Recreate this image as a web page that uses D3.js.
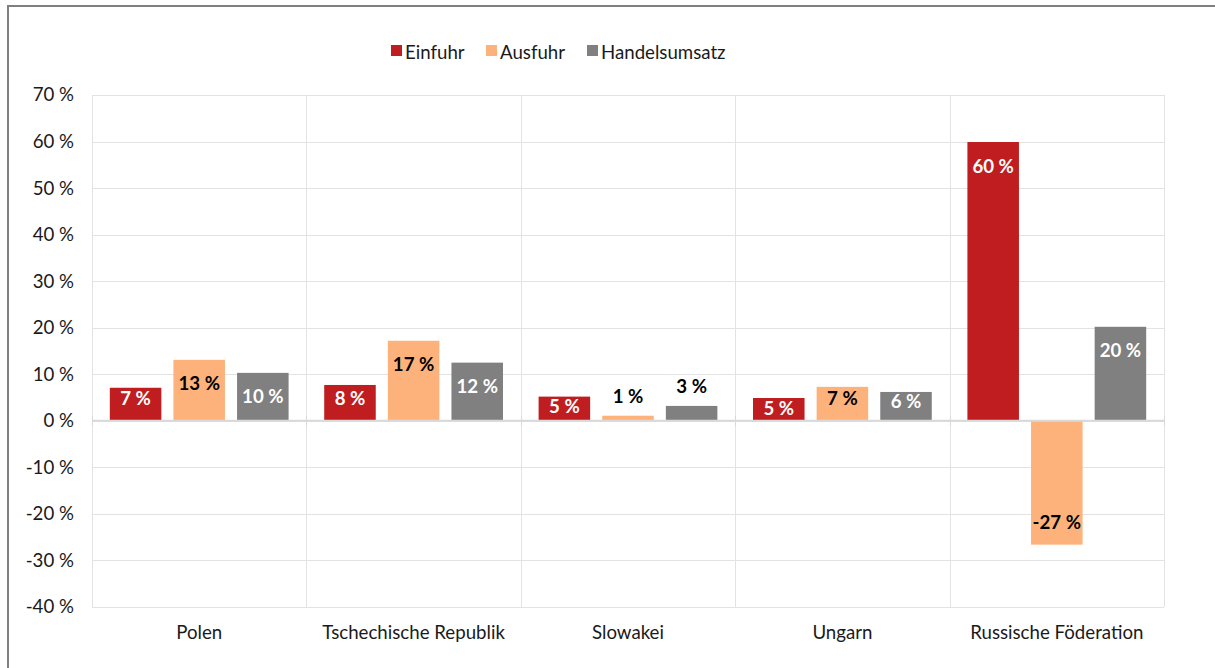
<!DOCTYPE html>
<html><head><meta charset="utf-8">
<script src="https://cdn.jsdelivr.net/npm/d3@7"></script>
<style>
html,body{margin:0;padding:0;background:#fff;}
svg{display:block;font-family:Lato,"Open Sans",sans-serif;}
</style></head><body>
<svg id="chart" width="1215" height="668"></svg>
<script>
const categories = ["Polen","Tschechische Republik","Slowakei","Ungarn","Russische Föderation"];
const seriesNames = ["Einfuhr","Ausfuhr","Handelsumsatz"];
const einfuhr = [7.1, 7.7, 5.2, 4.9, 59.9];
const ausfuhr = [13.1, 17.2, 1.1, 7.3, -26.6];
const handelsumsatz = [10.3, 12.5, 3.2, 6.2, 20.2];
const labelsEinfuhr = ["7 %","8 %","5 %","5 %","60 %"];
const labelsAusfuhr = ["13 %","17 %","1 %","7 %","-27 %"];
const labelsHandel = ["10 %","12 %","3 %","6 %","20 %"];
const yTicks = [70,60,50,40,30,20,10,0,-10,-20,-30,-40];

const colors = ["#BF1D1F","#FDB27B","#808080"];
const labelColors = ["#ffffff","#000000","#ffffff"];
const seriesVals = [einfuhr, ausfuhr, handelsumsatz];
const seriesLabels = [labelsEinfuhr, labelsAusfuhr, labelsHandel];
const FS = 18.67;

const svg = d3.select("#chart");
// outer frame
svg.append("rect").attr("x",8).attr("y",6).attr("width",1300).attr("height",800)
  .attr("fill","none").attr("stroke","#7f7f7f").attr("stroke-width",2);

const L=92, R=1164, T=95, B=607;
const y = d3.scaleLinear().domain([-40,70]).range([B,T]);
const x0 = d3.scaleBand().domain(categories).range([L,R]).paddingInner(0).paddingOuter(0);
const x1 = d3.scaleBand().domain(seriesNames).range([0,x0.bandwidth()]).paddingInner(0.19).paddingOuter(0.28);

// gridlines
svg.append("g").selectAll("line").data(yTicks).join("line")
  .attr("x1",L).attr("x2",R).attr("y1",d=>Math.round(y(d))+0.5).attr("y2",d=>Math.round(y(d))+0.5)
  .attr("stroke","#e3e3e3").attr("stroke-width",1);
// vertical category separators
const seps = categories.map(c=>x0(c)).concat([R]);
svg.append("g").selectAll("line").data(seps).join("line")
  .attr("x1",d=>Math.round(d)+0.5).attr("x2",d=>Math.round(d)+0.5).attr("y1",T).attr("y2",B)
  .attr("stroke","#e3e3e3").attr("stroke-width",1);

// y axis labels
const yAxis = d3.axisLeft(y).tickValues(yTicks).tickSize(0).tickPadding(0).tickFormat(d=>d+" %");
const ya = svg.append("g").attr("transform",`translate(74,0)`).call(yAxis);
ya.select(".domain").remove();
ya.selectAll("text").attr("font-size",FS).attr("fill","#1a1a1a").attr("font-family","Lato");

// bars
const groups = svg.append("g").selectAll("g").data(categories).join("g")
  .attr("transform",c=>`translate(${x0(c)},0)`);
seriesNames.forEach((s,si)=>{
  groups.append("rect")
    .attr("x",x1(s)).attr("width",x1.bandwidth())
    .attr("y",(c,i)=>y(Math.max(0,seriesVals[si][i])))
    .attr("height",(c,i)=>Math.abs(y(seriesVals[si][i])-y(0)))
    .attr("fill",colors[si]);
});

// zero line
svg.append("line").attr("x1",L).attr("x2",R).attr("y1",y(0)).attr("y2",y(0))
  .attr("stroke","#d9d9d9").attr("stroke-width",2);
svg.append("g").selectAll("line").data(seps).join("line")
  .attr("x1",d=>Math.round(d)+0.5).attr("x2",d=>Math.round(d)+0.5).attr("y1",y(0)-5).attr("y2",y(0)+5)
  .attr("stroke","#d9d9d9").attr("stroke-width",1);

// data labels
seriesNames.forEach((s,si)=>{
  categories.forEach((c,i)=>{
    const v = seriesVals[si][i];
    const h = Math.abs(y(v)-y(0));
    const cx = x0(c)+x1(s)+x1.bandwidth()/2;
    let cy, fill;
    if (h >= 20) {
      if (v >= 0) {
        const top = y(v), bot = y(0);
        cy = Math.min(top+24, Math.max(top+10, bot-22));
      } else {
        const top = y(0), bot = y(v);
        cy = Math.max(bot-22, Math.min(bot-10, top+22));
      }
      fill = labelColors[si];
    } else {
      cy = y(v)-19;
      fill = "#000000";
      svg.append("rect").attr("x",cx-24).attr("y",cy-12).attr("width",48).attr("height",24).attr("fill","#fff");
    }
    svg.append("text").attr("x",cx).attr("y",cy).attr("dy","0.35em")
      .attr("text-anchor","middle").attr("font-size",FS).attr("font-weight","bold")
      .attr("fill",fill).text(seriesLabels[si][i]);
  });
});

// category labels
const xAxis = d3.axisBottom(x0).tickSize(0).tickPadding(0);
const xa = svg.append("g").attr("transform",`translate(0,${B+19})`).call(xAxis);
xa.select(".domain").remove();
xa.selectAll("text").attr("font-size",FS).attr("fill","#1a1a1a").attr("font-family","Lato");

// legend
const legendX = [391, 486, 587];
const lg = svg.append("g");
seriesNames.forEach((s,si)=>{
  lg.append("rect").attr("x",legendX[si]).attr("y",45).attr("width",11).attr("height",11).attr("fill",colors[si]);
  lg.append("text").attr("x",legendX[si]+14).attr("y",52).attr("dy","0.35em")
    .attr("font-size",FS).attr("fill","#1a1a1a").text(s);
});
</script>
</body></html>
